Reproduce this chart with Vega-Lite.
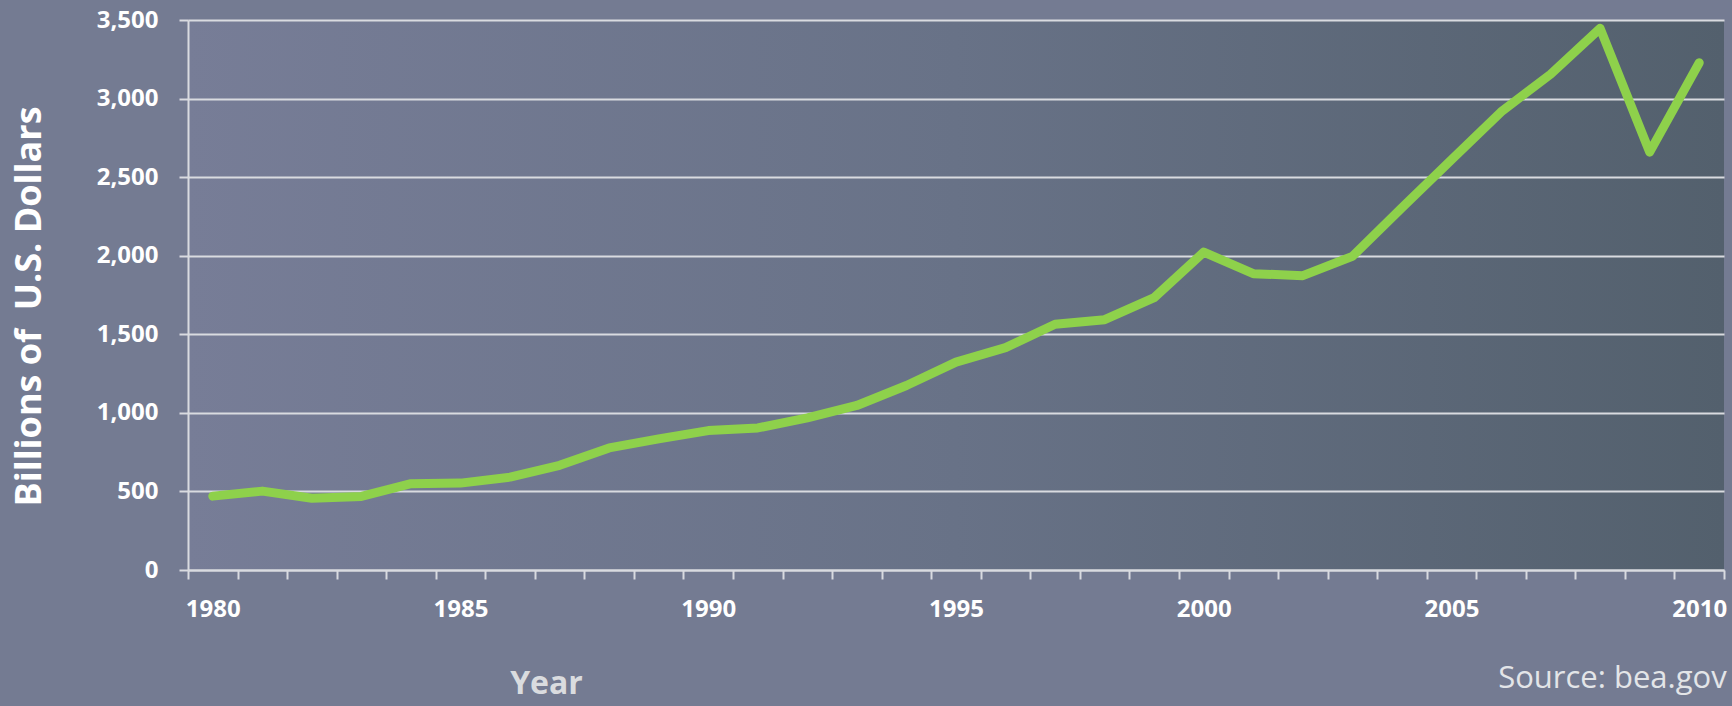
{
  "$schema": "https://vega.github.io/schema/vega-lite/v6.json",
  "width": 1536,
  "height": 550,
  "autosize": {"type": "none"},
  "padding": {"left": 188, "top": 20, "right": 8, "bottom": 136},
  "background": "#747b92",
  "view": {
    "stroke": null,
    "fill": {
      "gradient": "linear",
      "x1": 0, "y1": 0, "x2": 1, "y2": 0,
      "stops": [
        {"offset": 0, "color": "#777d97"},
        {"offset": 0.5, "color": "#687287"},
        {"offset": 1, "color": "#53606d"}
      ]
    }
  },
  "title": {
    "text": "Source: bea.gov",
    "orient": "bottom",
    "anchor": "end",
    "offset": -35,
    "font": "Open Sans",
    "fontSize": 31,
    "fontWeight": "normal",
    "color": "#e3e5e8"
  },
  "data": {
    "values": [
      {"year": 1980, "value": 470},
      {"year": 1981, "value": 502},
      {"year": 1982, "value": 457},
      {"year": 1983, "value": 468},
      {"year": 1984, "value": 549},
      {"year": 1985, "value": 553},
      {"year": 1986, "value": 591},
      {"year": 1987, "value": 666},
      {"year": 1988, "value": 777},
      {"year": 1989, "value": 834},
      {"year": 1990, "value": 887},
      {"year": 1991, "value": 904},
      {"year": 1992, "value": 968},
      {"year": 1993, "value": 1047},
      {"year": 1994, "value": 1174},
      {"year": 1995, "value": 1323},
      {"year": 1996, "value": 1415},
      {"year": 1997, "value": 1564},
      {"year": 1998, "value": 1593},
      {"year": 1999, "value": 1733},
      {"year": 2000, "value": 2023},
      {"year": 2001, "value": 1886},
      {"year": 2002, "value": 1873},
      {"year": 2003, "value": 1996},
      {"year": 2004, "value": 2305},
      {"year": 2005, "value": 2610},
      {"year": 2006, "value": 2915},
      {"year": 2007, "value": 3155},
      {"year": 2008, "value": 3447},
      {"year": 2009, "value": 2659},
      {"year": 2010, "value": 3228}
    ]
  },
  "mark": {
    "type": "line",
    "color": "#8ed14b",
    "strokeWidth": 9,
    "strokeCap": "round",
    "strokeJoin": "round"
  },
  "encoding": {
    "x": {
      "field": "year",
      "type": "quantitative",
      "scale": {"domain": [1979.5, 2010.5], "nice": false, "zero": false},
      "axis": {
        "title": "Year",
        "titleX": 358,
        "titleY": 123,
        "titleAlign": "center",
        "titleBaseline": "alphabetic",
        "titleFont": "Open Sans",
        "titleFontSize": 32,
        "titleFontWeight": "bold",
        "titleColor": "#dadcdf",
        "values": [1979.5, 1980, 1980.5, 1981.5, 1982.5, 1983.5, 1984.5, 1985, 1985.5, 1986.5, 1987.5, 1988.5, 1989.5, 1990, 1990.5, 1991.5, 1992.5, 1993.5, 1994.5, 1995, 1995.5, 1996.5, 1997.5, 1998.5, 1999.5, 2000, 2000.5, 2001.5, 2002.5, 2003.5, 2004.5, 2005, 2005.5, 2006.5, 2007.5, 2008.5, 2009.5, 2010, 2010.5],
        "labelExpr": "datum.value % 5 === 0 ? '' + datum.value : ''",
        "labelOverlap": false,
        "labelFlush": false,
        "labelBound": false,
        "labelFont": "Open Sans",
        "labelFontSize": 24,
        "labelFontWeight": "bold",
        "labelColor": "#ffffff",
        "labelPadding": 18,
        "tickSize": 9,
        "tickWidth": 2,
        "tickColor": "#d9dbe0",
        "tickOpacity": {"condition": {"test": "datum.value % 1 === 0", "value": 0}, "value": 1},
        "domainColor": "#d9dbe0",
        "domainWidth": 2,
        "grid": false
      }
    },
    "y": {
      "field": "value",
      "type": "quantitative",
      "scale": {"domain": [0, 3500], "nice": false},
      "axis": {
        "title": "Billions of \u00a0U.S. Dollars",
        "titleX": -148,
        "titleY": 286,
        "titleBaseline": "alphabetic",
        "titleFont": "Open Sans",
        "titleFontSize": 36,
        "titleFontWeight": "bold",
        "titleColor": "#ffffff",
        "values": [0, 500, 1000, 1500, 2000, 2500, 3000, 3500],
        "format": ",d",
        "labelFont": "Open Sans",
        "labelFontSize": 24,
        "labelFontWeight": "bold",
        "labelColor": "#ffffff",
        "labelPadding": 21,
        "tickSize": 9,
        "tickWidth": 2,
        "tickColor": "#d9dbe0",
        "domainColor": "#d9dbe0",
        "domainWidth": 2,
        "grid": true,
        "gridColor": "#d9dbe0",
        "gridWidth": 2
      }
    }
  }
}
